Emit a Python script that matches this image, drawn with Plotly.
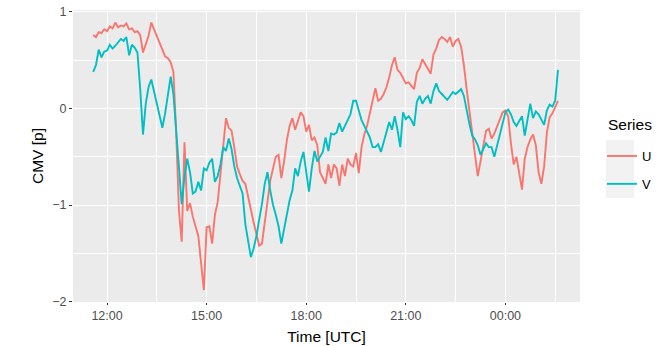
import pandas as pd
import plotly.graph_objects as go

# 5-minute samples from 11:35 UTC to 01:35 UTC the next day
start_time = "2021-06-14 11:35"
n_samples = 169
times = pd.date_range(start=start_time, periods=n_samples, freq="5min")

u_values = [
    0.76, 0.74, 0.79, 0.78, 0.82, 0.80, 0.85, 0.83, 0.89, 0.84, 0.86, 0.85,
    0.88, 0.82, 0.83, 0.79, 0.80, 0.76, 0.58, 0.66, 0.75, 0.89, 0.82, 0.76,
    0.69, 0.60, 0.54, 0.52, 0.48, 0.38, -0.25, -1.06, -1.38, -0.35, -1.06, -0.98,
    -1.12, -1.22, -1.32, -1.60, -1.88, -1.23, -1.22, -1.40, -1.10, -0.97, -0.70, -0.44,
    -0.10, -0.20, -0.23, -0.40, -0.60, -0.68, -0.75, -0.78, -0.92, -1.06, -1.18, -1.30,
    -1.42, -1.40, -1.18, -0.97, -0.75, -0.62, -0.50, -0.48, -0.72, -0.55, -0.33, -0.18,
    -0.10, -0.22, -0.12, -0.04, -0.08, -0.24, -0.17, -0.33, -0.30, -0.38, -0.66, -0.72,
    -0.78, -0.58, -0.72, -0.58, -0.62, -0.80, -0.58, -0.70, -0.52, -0.58, -0.60, -0.46,
    -0.67, -0.40, -0.27, -0.18, -0.05, 0.08, 0.21, 0.08, 0.10, 0.15, 0.22, 0.32,
    0.45, 0.53, 0.40, 0.37, 0.32, 0.26, 0.27, 0.24, 0.20, 0.37, 0.42, 0.51,
    0.46, 0.40, 0.36, 0.56, 0.62, 0.71, 0.74, 0.72, 0.69, 0.74, 0.64, 0.70,
    0.72, 0.64, 0.45, 0.20, -0.02, -0.24, -0.50, -0.70, -0.55, -0.38, -0.23, -0.21,
    -0.31, -0.26, -0.19, -0.10, -0.04, -0.02, -0.08, -0.36, -0.58, -0.50, -0.65, -0.84,
    -0.52, -0.40, -0.32, -0.27, -0.38, -0.66, -0.78, -0.60, -0.25, -0.09, -0.05, 0.02,
    0.08,
]

v_values = [
    0.38, 0.45, 0.61, 0.53, 0.59, 0.60, 0.66, 0.62, 0.65, 0.68, 0.72, 0.70,
    0.74, 0.55, 0.66, 0.63, 0.58, 0.20, -0.27, 0.05, 0.22, 0.30, 0.18, 0.06,
    -0.08, -0.20, -0.05, 0.15, 0.33, 0.15, -0.22, -0.65, -0.99, -0.70, -0.52, -0.66,
    -0.88, -0.86, -0.76, -0.85, -0.62, -0.64, -0.56, -0.52, -0.76, -0.70, -0.58, -0.40,
    -0.44, -0.31, -0.42, -0.60, -0.72, -0.80, -0.88, -1.20, -1.35, -1.54, -1.45, -1.32,
    -1.15, -0.99, -0.78, -0.66, -0.85, -1.00, -1.10, -1.22, -1.40, -1.25, -1.06, -0.95,
    -0.85, -0.62, -0.70, -0.55, -0.45, -0.65, -0.86, -0.62, -0.44, -0.55, -0.50, -0.45,
    -0.30, -0.44, -0.26, -0.27, -0.25, -0.15, -0.24, -0.18, -0.12, -0.06, 0.08, 0.08,
    -0.02, -0.12, -0.18, -0.24, -0.30, -0.40, -0.40, -0.37, -0.45, -0.35, -0.24, -0.14,
    -0.22, -0.08, -0.22, -0.40, -0.04, -0.11, -0.08, -0.12, -0.18, 0.07, 0.13, 0.05,
    0.10, 0.13, 0.05, 0.18, 0.26, 0.18, 0.15, 0.12, 0.09, 0.13, 0.17, 0.15,
    0.18, 0.20, 0.13, -0.03, -0.16, -0.28, -0.32, -0.38, -0.48, -0.42, -0.36, -0.40,
    -0.40, -0.50, -0.38, -0.25, -0.16, -0.04, -0.01, -0.06, -0.14, -0.18, -0.13, -0.08,
    -0.28, -0.10, 0.05, -0.10, -0.03, -0.06, -0.12, -0.17, -0.02, 0.04, 0.02, 0.08,
    0.40,
]

series_names = ["U", "V"]
series_colors = ["#F8766D", "#00BFC4"]
legend_title = "Series"

x_ticks = pd.to_datetime(["2021-06-14 12:00", "2021-06-14 15:00", "2021-06-14 18:00",
                          "2021-06-14 21:00", "2021-06-15 00:00"])
x_tick_labels = ["12:00", "15:00", "18:00", "21:00", "00:00"]
y_ticks = [-2, -1, 0, 1]

fig = go.Figure()
for name, vals, col in zip(series_names, [u_values, v_values], series_colors):
    fig.add_trace(go.Scatter(
        x=times, y=vals, mode="lines", name=name, legendgroup=name,
        line=dict(color=col, width=1.9),
    ))

grid_minor = dict(showgrid=True, gridcolor="#FFFFFF", gridwidth=0.6)

# panel spans 292 px vertically (y = 10..302 in page pixels)
def paper_y(py):
    return (302 - py) / 292

def paper_x(px):
    return (px - 73) / 507

fig.update_layout(
    width=671, height=346,
    margin=dict(l=73, r=91, t=10, b=44),
    paper_bgcolor="#FFFFFF",
    plot_bgcolor="#EBEBEB",
    font=dict(family="Liberation Sans, Arial, sans-serif", color="#000000"),
    showlegend=True,
    legend=dict(
        font=dict(size=13, color="#000000"),
        x=paper_x(602), xanchor="left", y=paper_y(141), yanchor="top",
        bgcolor="rgba(0,0,0,0)", tracegroupgap=8, itemwidth=30,
    ),
    # legend key panel (light grey behind the key lines)
    shapes=[dict(
        type="rect", xref="paper", yref="paper",
        x0=paper_x(606), x1=paper_x(634), y0=paper_y(198), y1=paper_y(140),
        fillcolor="#F2F2F2", line=dict(width=0), layer="below",
    )],
    annotations=[dict(
        text=legend_title, xref="paper", yref="paper",
        x=paper_x(606), y=paper_y(124), xanchor="left", yanchor="middle",
        showarrow=False, font=dict(size=15.5, color="#000000"),
    )],
)

fig.update_xaxes(
    automargin=False,
    range=[pd.Timestamp("2021-06-14 10:58:30"), pd.Timestamp("2021-06-15 02:14:50")],
    tickvals=x_ticks, ticktext=x_tick_labels,
    ticks="outside", ticklen=2, tickcolor="#333333", tickwidth=1,
    tickfont=dict(size=12.5, color="#4D4D4D"),
    showgrid=True, gridcolor="#FFFFFF", gridwidth=1.2,
    minor=dict(tick0="2021-06-14 10:30", dtick=3 * 3600 * 1000, **grid_minor),
    zeroline=False, showline=False,
    title=dict(text="Time [UTC]", font=dict(size=15.5, color="#000000"), standoff=9),
)
fig.update_yaxes(
    automargin=False,
    range=[-2.004, 1.02],
    tickvals=y_ticks,
    ticks="outside", ticklen=3, tickcolor="#333333", tickwidth=1,
    tickfont=dict(size=12.5, color="#4D4D4D"),
    showgrid=True, gridcolor="#FFFFFF", gridwidth=1.2,
    minor=dict(tick0=-1.5, dtick=1, **grid_minor),
    zeroline=False, showline=False,
    title=dict(text="CMV [p]", font=dict(size=15.5, color="#000000"), standoff=4),
)

fig.write_html("out.html")
